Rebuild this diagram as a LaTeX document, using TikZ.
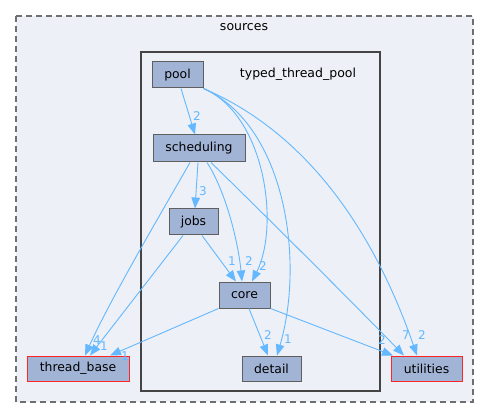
\documentclass[tikz,border=0pt]{standalone}
\usepackage{fontspec}
\setmainfont{DejaVu Sans}
\usetikzlibrary{arrows.meta}
\definecolor{clusterbg}{HTML}{EDF0F7}
\definecolor{dirfill}{HTML}{A2B4D6}
\definecolor{dirline}{HTML}{5F5F5F}
\definecolor{edgeblue}{HTML}{63B8FF}
\definecolor{frame}{HTML}{444444}
\tikzset{
  dirbox/.style={draw=dirline, line width=1pt, fill=dirfill, inner sep=0pt,
    font=\fontsize{12.4}{14}\selectfont, text=black},
  extbox/.style={dirbox, draw=red!85!white},
  dep/.style={draw=edgeblue, line width=0.9pt,
    -{Triangle[length=11pt,width=8.5pt]}},
  lbl/.style={text=edgeblue, inner sep=0pt, font=\fontsize{12}{14}\selectfont},
  title/.style={inner sep=0pt, font=\fontsize{12.5}{14}\selectfont}
}
\begin{document}
\begin{tikzpicture}[x=1pt, y=-1pt]
  \useasboundingbox (0,0) rectangle (489,419);

  % outer directory: sources
  \draw[draw=dirline!90, fill=clusterbg, line width=1.2pt, dash pattern=on 6pt off 4pt]
    (16,16) rectangle (473,402);
  \node[title] (srclabel) at (244,27) {sources};

  % inner directory: typed_thread_pool
  \draw[draw=frame, fill=clusterbg, line width=2pt] (141,52) rectangle (380,391);
  \node[title] (ttplabel) at (298,74) {typed\_thread\_pool};

  % directories
  \node[dirbox, minimum width=51pt, minimum height=26pt] (pool) at (177.5,75) {pool};
  \node[dirbox, minimum width=92pt, minimum height=27pt] (scheduling) at (199,148.5) {scheduling};
  \node[dirbox, minimum width=49pt, minimum height=26pt] (jobs) at (193.5,222) {jobs};
  \node[dirbox, minimum width=51pt, minimum height=26pt] (core) at (244.5,295) {core};
  \node[dirbox, minimum width=59pt, minimum height=25pt] (detail) at (271.5,368.5) {detail};
  \node[extbox, minimum width=102pt, minimum height=25pt] (threadbase) at (78,368.5) {thread\_base};
  \node[extbox, minimum width=71pt, minimum height=25pt] (utilities) at (426.5,368.5) {utilities};

  % dependencies of pool
  \draw[dep] ([xshift=3.5pt]pool.south) -- ([xshift=-4pt]scheduling.north);
  \draw[dep] (pool.south east) .. controls (265,115) and (280,225) .. ([xshift=7.5pt]core.north);
  \draw[dep] (pool.south east) .. controls (285,125) and (305,260) .. ([xshift=5.5pt]detail.north);
  \draw[dep] (pool.south east) .. controls (300,130) and (370,220) .. ([xshift=-9.5pt]utilities.north);

  % dependencies of scheduling
  \draw[dep] ([xshift=-1pt]scheduling.south) -- ([xshift=1.5pt]jobs.north);
  \draw[dep] ([xshift=8pt]scheduling.south) .. controls (225,190) and (238,240) .. ([xshift=-2.5pt]core.north);
  \draw[dep] ([xshift=-9pt]scheduling.south) .. controls (160,215) and (110,300) .. ([xshift=7pt]threadbase.north);
  \draw[dep] ([xshift=12pt]scheduling.south) .. controls (280,230) and (350,300) .. ([xshift=-22.5pt]utilities.north);

  % dependencies of jobs
  \draw[dep] ([xshift=8.5pt]jobs.south) -- ([xshift=-8.5pt]core.north);
  \draw[dep] ([xshift=-10.5pt]jobs.south) -- ([xshift=12pt]threadbase.north);

  % dependencies of core
  \draw[dep] (core.south west) -- ([xshift=32pt]threadbase.north);
  \draw[dep] ([xshift=4.5pt]core.south) -- ([xshift=-3.5pt]detail.north);
  \draw[dep] (core.south east) -- ([xshift=-33.5pt]utilities.north);

  % dependency counts
  \node[lbl] (n1) at (197,116) {2};
  \node[lbl] (n2) at (203,191) {3};
  \node[lbl] (n3) at (232,261) {1};
  \node[lbl] (n4) at (249,261) {2};
  \node[lbl] (n5) at (263,266) {2};
  \node[lbl] (n6) at (268,335) {2};
  \node[lbl] (n7) at (288,339) {1};
  \node[lbl] (n8) at (97,340) {4};
  \node[lbl] (n9) at (104,346) {1};
  \node[lbl] (n10) at (125,356) {1};
  \node[lbl] (n11) at (382,340) {2};
  \node[lbl] (n12) at (406,335) {7};
  \node[lbl] (n13) at (422,335) {2};
\end{tikzpicture}
\end{document}
